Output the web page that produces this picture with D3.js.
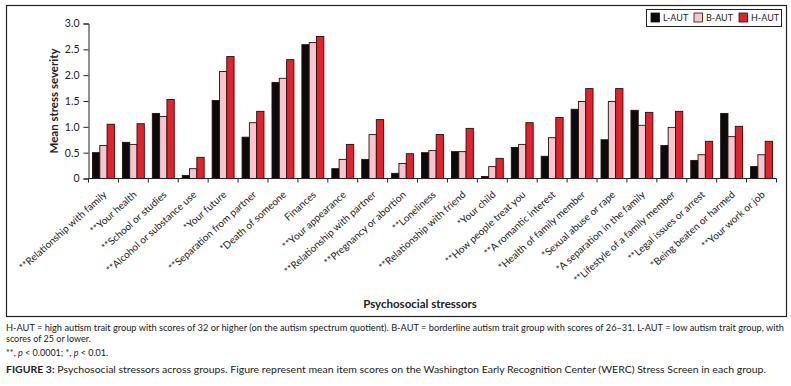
<!DOCTYPE html>
<html>
<head>
<meta charset="utf-8">
<script src="https://cdn.jsdelivr.net/npm/d3@7"></script>
<style>
  body { margin: 0; background: #fff; }
  svg text { font-family: Lato, "Open Sans", sans-serif; fill: #222; }
</style>
</head>
<body>
<div id="chart"></div>
<script>
const categories = [
  '**Relationship with family', '**Your health', '**School or studies', '**Alcohol or substance use',
  '*Your future', '**Separation from partner', '*Death of someone', 'Finances',
  '**Your appearance', '**Relationship with partner', '**Pregnancy or abortion', '**Loneliness',
  '**Relationship with friend', '*Your child', '**How people treat you', '**A romantic interest',
  '*Health of family member', '*Sexual abuse or rape', '*A separation in the family',
  '**Lifestyle of a family member', '**Legal issues or arrest', '*Being beaten or harmed', '**Your work or job'
]
const seriesNames = ['L-AUT', 'B-AUT', 'H-AUT']
const lAut = [0.50, 0.70, 1.26, 0.06, 1.51, 0.80, 1.86, 2.59, 0.19, 0.37, 0.10, 0.50,
  0.52, 0.04, 0.60, 0.43, 1.34, 0.75, 1.32, 0.64, 0.35, 1.26, 0.23]
const bAut = [0.64, 0.66, 1.20, 0.19, 2.07, 1.08, 1.94, 2.63, 0.37, 0.85, 0.29, 0.54,
  0.52, 0.23, 0.66, 0.79, 1.49, 1.49, 1.03, 0.99, 0.46, 0.81, 0.46]
const hAut = [1.05, 1.06, 1.53, 0.41, 2.36, 1.30, 2.30, 2.75, 0.66, 1.14, 0.48, 0.85,
  0.97, 0.39, 1.08, 1.18, 1.74, 1.74, 1.28, 1.30, 0.72, 1.01, 0.72]
const yTicks = [0, 0.5, 1.0, 1.5, 2.0, 2.5, 3.0]
const colors = ['#0b0b0b', '#f7c5cd', '#e5212b']

const captionLines = [
  'H-AUT = high autism trait group with scores of 32 or higher (on the autism spectrum quotient). B-AUT = borderline autism trait group with scores of 26\u201331. L-AUT = low autism trait group, with',
  'scores of 25 or lower.'
]

const W = 791, H = 386
const svg = d3.select('#chart').append('svg').attr('width', W).attr('height', H)

// frame
svg.append('rect').attr('x', 6.5).attr('y', 5.5).attr('width', 780).attr('height', 311)
  .attr('fill', 'none').attr('stroke', '#222').attr('stroke-width', 1.2)

const x = d3.scaleBand().domain(categories).range([88.5, 776.5]).padding(0)
const xSub = d3.scaleBand().domain(seriesNames).range([4, x.bandwidth() - 4])
const y = d3.scaleLinear().domain([0, 3]).range([178.5, 23.5])

const rows = categories.map((c, i) => ({ cat: c, vals: [lAut[i], bAut[i], hAut[i]] }))

// bars
const g = svg.append('g')
g.selectAll('g.grp').data(rows).join('g').attr('class', 'grp')
  .attr('transform', d => `translate(${x(d.cat)},0)`)
  .selectAll('rect').data(d => d.vals.map((v, k) => ({ v, k })))
  .join('rect')
  .attr('x', d => xSub(seriesNames[d.k]))
  .attr('y', d => y(d.v))
  .attr('width', xSub.bandwidth())
  .attr('height', d => y(0) - y(d.v))
  .attr('fill', d => colors[d.k])
  .attr('stroke', '#2a0d0d').attr('stroke-width', 0.9)

// y axis
const gy = svg.append('g').attr('transform', 'translate(88.5,0)')
  .call(d3.axisLeft(y).tickValues(yTicks).tickSize(5).tickPadding(4)
    .tickFormat(d => d === 0 ? '0' : d3.format('.1f')(d)))
gy.select('.domain').attr('stroke', '#222')
gy.selectAll('.tick line').attr('stroke', '#222')
gy.selectAll('text').style('font-size', '10.5px').style('font-family', 'Lato').attr('fill', '#333')

// x axis: ticks on band boundaries
const xTickPos = categories.map(c => x(c)).concat([x.range()[1]])
svg.append('line').attr('x1', 88.5).attr('x2', 776.5).attr('y1', y(0)).attr('y2', y(0))
  .attr('stroke', '#222')
svg.append('g').selectAll('line').data(xTickPos).join('line')
  .attr('x1', d => d).attr('x2', d => d)
  .attr('y1', y(0)).attr('y2', y(0) + 4).attr('stroke', '#222')

svg.append('g').selectAll('text').data(categories).join('text')
  .attr('transform', c => `translate(${x(c) + x.bandwidth() / 2 + 4},${y(0) + 17}) rotate(-42)`)
  .attr('text-anchor', 'end')
  .style('font-size', '10px')
  .text(c => c)

// axis titles
svg.append('text').attr('transform', 'translate(58,101) rotate(-90)')
  .attr('text-anchor', 'middle').style('font-size', '11.5px').style('font-weight', 'bold')
  .text('Mean stress severity')
svg.append('text').attr('x', 420).attr('y', 308)
  .attr('text-anchor', 'middle').style('font-size', '11.5px').style('font-weight', 'bold')
  .text('Psychosocial stressors')

// legend
const lg = svg.append('g')
lg.append('rect').attr('x', 646.5).attr('y', 9.5).attr('width', 135).attr('height', 17)
  .attr('fill', '#fff').attr('stroke', '#222')
const legX = [651, 694, 739]
seriesNames.forEach((s, k) => {
  lg.append('rect').attr('x', legX[k]).attr('y', 13).attr('width', 8.5).attr('height', 9)
    .attr('fill', colors[k]).attr('stroke', '#2a0d0d').attr('stroke-width', 0.8)
  lg.append('text').attr('x', legX[k] + 12).attr('y', 21).style('font-size', '9px').text(s)
})

// caption
const cap = svg.append('g')
cap.append('text').attr('x', 6).attr('y', 330.5).style('font-size', '9px')
  .attr('textLength', 778).attr('lengthAdjust', 'spacingAndGlyphs').text(captionLines[0])
cap.append('text').attr('x', 6).attr('y', 342).style('font-size', '9px').text(captionLines[1])
const p = cap.append('text').attr('x', 6).attr('y', 356).style('font-size', '9px')
p.append('tspan').text('**, ')
p.append('tspan').style('font-style', 'italic').text('p')
p.append('tspan').text(' < 0.0001; *, ')
p.append('tspan').style('font-style', 'italic').text('p')
p.append('tspan').text(' < 0.01.')
const f = cap.append('text').attr('x', 6).attr('y', 373).style('font-size', '10px')
  .attr('textLength', 760).attr('lengthAdjust', 'spacingAndGlyphs')
f.append('tspan').style('font-weight', 'bold').text('FIGURE 3:')
f.append('tspan').text(' Psychosocial stressors across groups. Figure represent mean item scores on the Washington Early Recognition Center (WERC) Stress Screen in each group.')
</script>
</body>
</html>
